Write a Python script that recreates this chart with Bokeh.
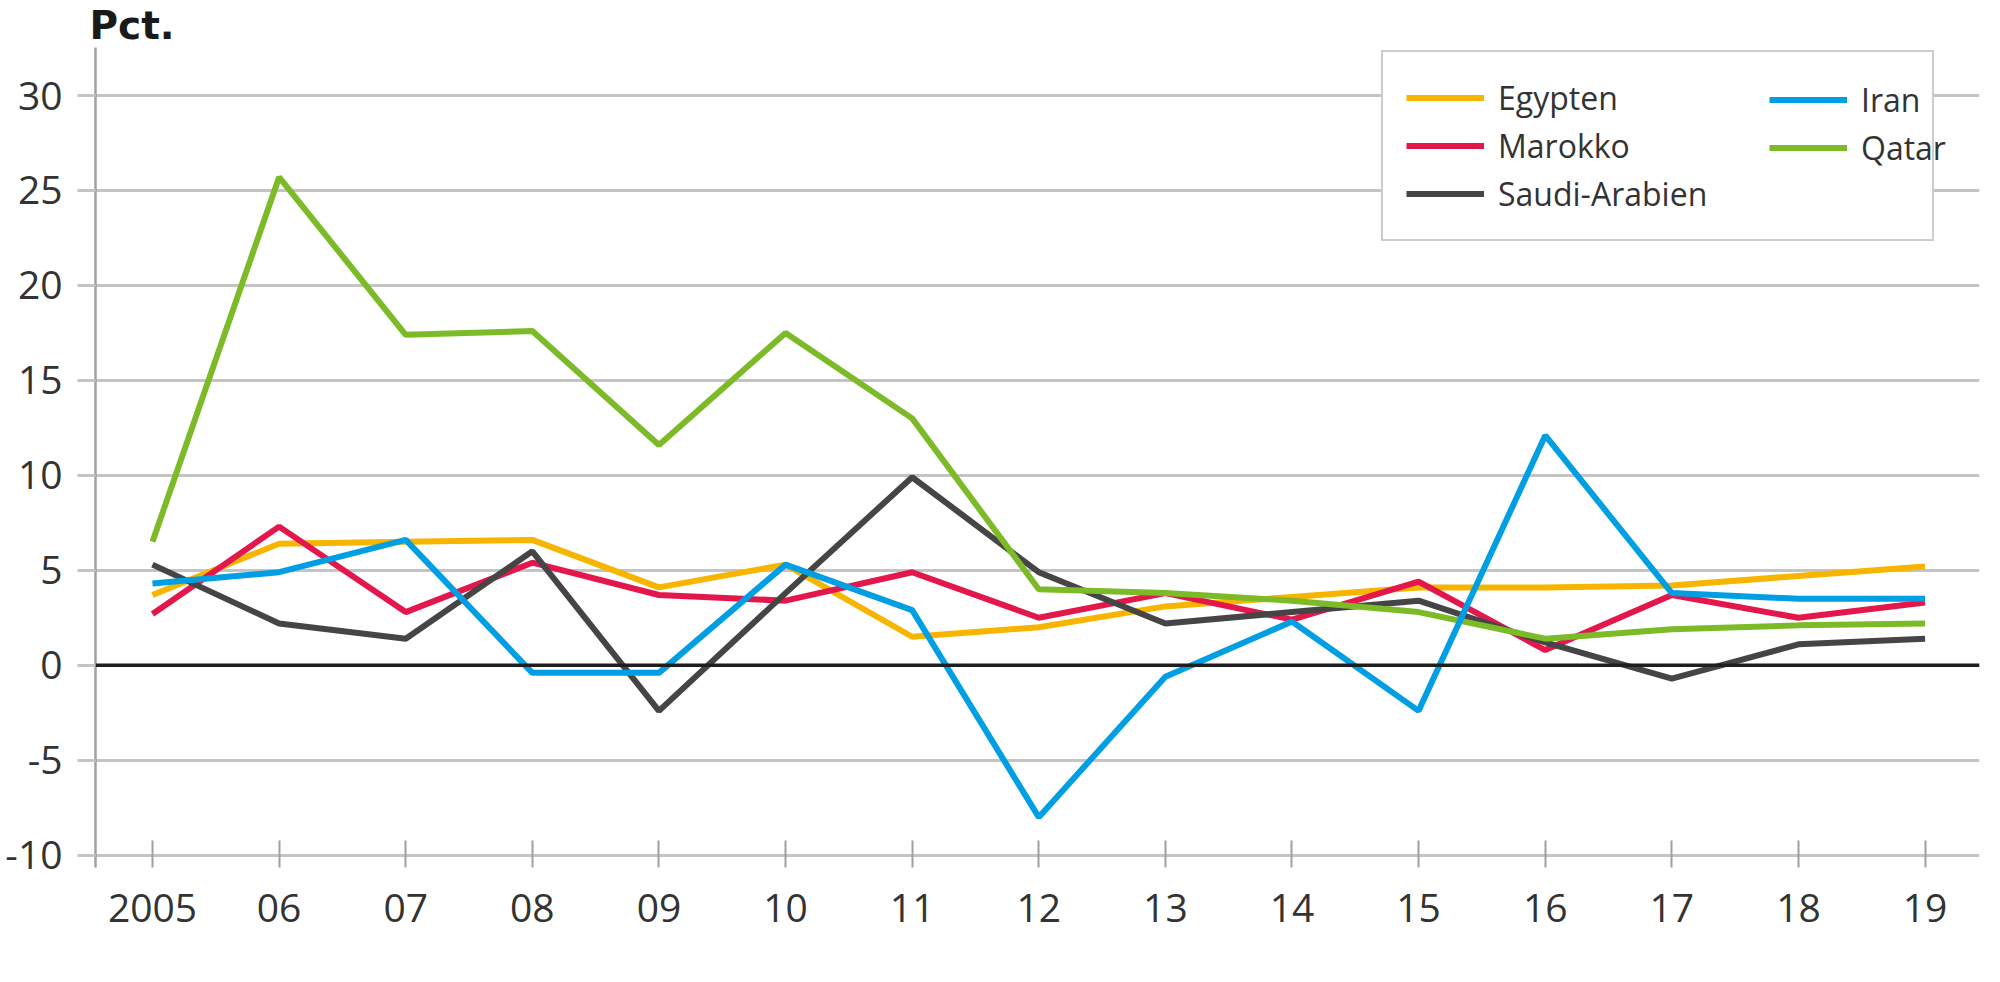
from bokeh.plotting import figure
from bokeh.models import Range1d, FixedTicker, Span, Legend, LegendItem
from bokeh.embed import file_html
from bokeh.resources import INLINE

years = list(range(2005, 2020))
year_labels = ["2005", "06", "07", "08", "09", "10", "11", "12", "13", "14", "15", "16", "17", "18", "19"]
y_ticks = [-10, -5, 0, 5, 10, 15, 20, 25, 30]
y_labels = ["-10", "-5", "0", "5", "10", "15", "20", "25", "30"]

egypten = [3.7, 6.4, 6.5, 6.6, 4.1, 5.3, 1.5, 2.0, 3.1, 3.6, 4.1, 4.1, 4.2, 4.7, 5.2]
iran = [4.3, 4.9, 6.6, -0.4, -0.4, 5.3, 2.9, -8.0, -0.6, 2.3, -2.4, 12.1, 3.8, 3.5, 3.5]
marokko = [2.7, 7.3, 2.8, 5.4, 3.7, 3.4, 4.9, 2.5, 3.8, 2.4, 4.4, 0.8, 3.7, 2.5, 3.3]
qatar = [6.5, 25.7, 17.4, 17.6, 11.6, 17.5, 13.0, 4.0, 3.8, 3.4, 2.8, 1.4, 1.9, 2.1, 2.2]
saudi = [5.3, 2.2, 1.4, 6.0, -2.4, 3.8, 9.9, 4.9, 2.2, 2.8, 3.4, 1.2, -0.7, 1.1, 1.4]

FONT = "Open Sans"
GRID = "#c4c4c4"
TXT = "#333333"

p = figure(
    width=1984,
    height=966,
    x_range=Range1d(2004.55, 2019.43),
    y_range=Range1d(-10.65, 32.53),
    output_backend="svg",
    toolbar_location=None,
    min_border_left=95,
    min_border_right=5,
    min_border_top=47,
    min_border_bottom=99,
)
p.outline_line_color = None
p.xgrid.grid_line_color = None
p.ygrid.ticker = FixedTicker(ticks=y_ticks)
p.ygrid.grid_line_color = GRID
p.ygrid.grid_line_width = 3

p.title.text = "Pct."
p.title.text_font = "DejaVu Sans"
p.title.text_font_size = "39px"
p.title.text_font_style = "bold"
p.title.text_color = "#1a1a1a"
p.title.offset = -6
p.title.standoff = 0

# y axis
p.yaxis.ticker = FixedTicker(ticks=y_ticks)
p.yaxis.major_label_overrides = {t: l for t, l in zip(y_ticks, y_labels)}
p.yaxis.axis_line_color = "#a0a0a0"
p.yaxis.axis_line_width = 2.5
p.yaxis.major_tick_line_color = GRID
p.yaxis.major_tick_line_width = 3
p.yaxis.major_tick_out = 18
p.yaxis.major_tick_in = 0
p.yaxis.minor_tick_line_color = None
p.yaxis.major_label_standoff = 15
p.yaxis.major_label_text_font = FONT
p.yaxis.major_label_text_font_size = "39px"
p.yaxis.major_label_text_color = TXT

# x axis
p.xaxis.ticker = FixedTicker(ticks=years)
p.xaxis.major_label_overrides = {y: l for y, l in zip(years, year_labels)}
p.xaxis.axis_line_color = None
p.xaxis.major_tick_line_color = "#a0a0a0"
p.xaxis.major_tick_line_width = 2
p.xaxis.major_tick_in = 27
p.xaxis.major_tick_out = 0
p.xaxis.minor_tick_line_color = None
p.xaxis.major_label_standoff = 26
p.xaxis.major_label_text_font = FONT
p.xaxis.major_label_text_font_size = "39px"
p.xaxis.major_label_text_color = TXT

p.add_layout(Span(location=0, dimension="width", line_color="#1e1e1e", line_width=3.5))

LW = 6
r_eg = p.line(years, egypten, line_color="#f7b500", line_width=LW)
r_ma = p.line(years, marokko, line_color="#e3174b", line_width=LW)
r_sa = p.line(years, saudi, line_color="#454545", line_width=LW)
r_qa = p.line(years, qatar, line_color="#7dba27", line_width=LW)
r_ir = p.line(years, iran, line_color="#009fe3", line_width=LW)

legend_style = dict(
    orientation="vertical",
    padding=23,
    spacing=3,
    glyph_width=78,
    glyph_height=45,
    label_height=45,
    label_standoff=14,
    label_text_font=FONT,
    label_text_font_size="32px",
    label_text_color=TXT,
)

# first column, with the frame around the whole legend
legend_left = Legend(
    items=[
        LegendItem(label="Egypten", renderers=[r_eg]),
        LegendItem(label="Marokko", renderers=[r_ma]),
        LegendItem(label="Saudi-Arabien", renderers=[r_sa]),
    ],
    location=(1286, 626),
    label_width=411,
    border_line_color="#9a9a9a",
    border_line_width=2,
    background_fill_color="white",
    background_fill_alpha=1,
    **legend_style,
)
# second column, drawn over the first one's box
legend_right = Legend(
    items=[
        LegendItem(label="Iran", renderers=[r_ir]),
        LegendItem(label="Qatar", renderers=[r_qa]),
    ],
    location=(1674, 697),
    border_line_color=None,
    background_fill_alpha=0,
    **legend_style,
)
p.add_layout(legend_left, "center")
p.add_layout(legend_right, "center")

open("out.html", "w").write(file_html(p, INLINE))
